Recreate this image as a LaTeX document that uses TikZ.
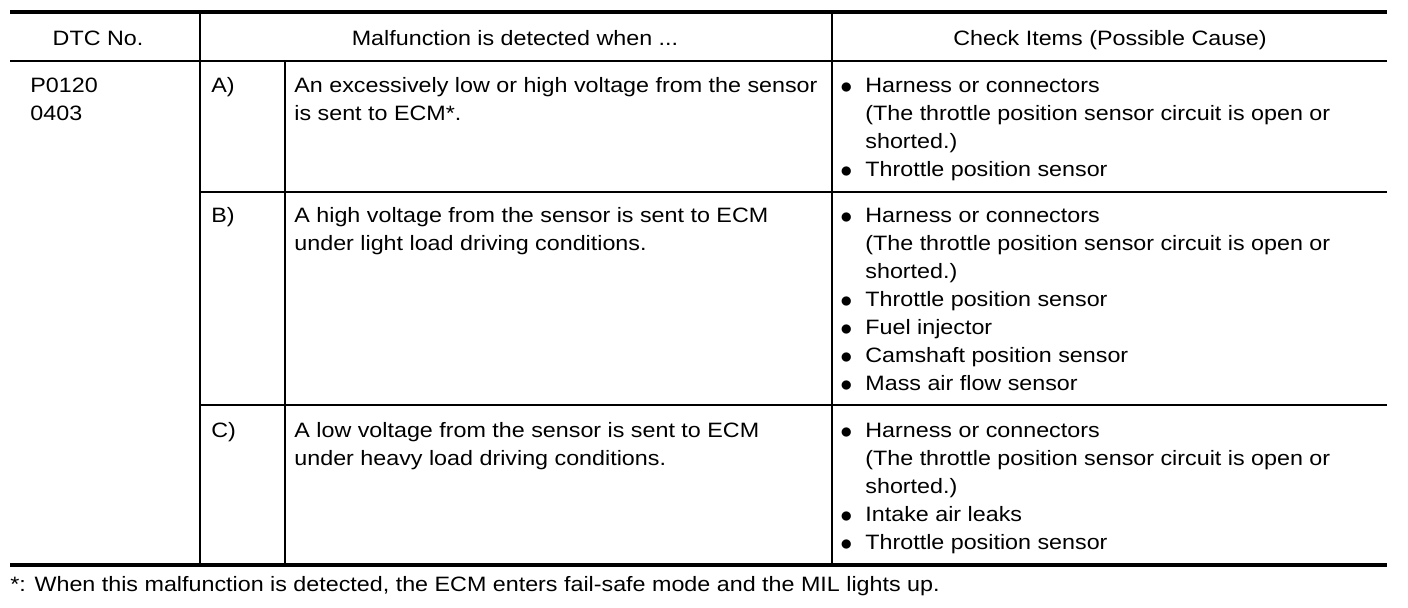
\documentclass[tikz,border=0pt]{standalone}
\usepackage{fontspec}
\setmainfont{Liberation Sans}[FakeStretch=1.12]
\usetikzlibrary{positioning}

\newcommand{\itm}{\makebox[12.5pt][l]{\raisebox{-0.8pt}{\fontsize{13pt}{14pt}\selectfont$\bullet$}}}
\newcommand{\cont}{\hspace*{12.5pt}}

\tikzset{
  cell/.style={anchor=north west, inner sep=0pt, align=left, font=\fontsize{10.4pt}{14pt}\selectfont},
  head/.style={anchor=base, inner sep=0pt, font=\fontsize{10.4pt}{14pt}\selectfont},
  rule/.style={line width=1.1pt},
  heavy/.style={line width=1.9pt}
}

\begin{document}
\begin{tikzpicture}[x=0.5pt, y=-0.5pt]
    \useasboundingbox (0,0) rectangle (1408,608);

    % Rules
    \draw[heavy] (10,12) -- (1387,12);
    \draw[rule, line width=1.3pt] (10,61) -- (1387,61);
    \draw[rule] (200,192) -- (1387,192);
    \draw[rule] (200,405) -- (1387,405);
    \draw[heavy] (10,565) -- (1387,565);
    \draw[rule] (200,12) -- (200,565);
    \draw[rule] (285,61) -- (285,565);
    \draw[rule] (832,12) -- (832,565);

    % Header
    \node[head] (hdtc) at (98,46) {DTC No.};
    \node[head] (hmal) at (515,46) {Malfunction is detected when ...};
    \node[head] (hchk) at (1110,46) {Check Items (Possible Cause)};

    % Row A
    \node[cell] (dtc) at (30,77.3) {P0120\\0403};
    \node[cell] (la) at (211,77.3) {A)};
    \node[cell] (da) at (294,77.3) {An excessively low or high voltage from the sensor\\is sent to ECM*.};
    \node[cell] (ca) at (840,77.3) {\itm Harness or connectors\\
        \cont(The throttle position sensor circuit is open or\\
        \cont shorted.)\\
        \itm Throttle position sensor};

    % Row B
    \node[cell] (lb) at (211,207.3) {B)};
    \node[cell] (db) at (294,207.3) {A high voltage from the sensor is sent to ECM\\under light load driving conditions.};
    \node[cell] (cb) at (840,207.3) {\itm Harness or connectors\\
        \cont(The throttle position sensor circuit is open or\\
        \cont shorted.)\\
        \itm Throttle position sensor\\
        \itm Fuel injector\\
        \itm Camshaft position sensor\\
        \itm Mass air flow sensor};

    % Row C
    \node[cell] (lc) at (211,422.3) {C)};
    \node[cell] (dc) at (294,422.3) {A low voltage from the sensor is sent to ECM\\under heavy load driving conditions.};
    \node[cell] (cc) at (840,422.3) {\itm Harness or connectors\\
        \cont(The throttle position sensor circuit is open or\\
        \cont shorted.)\\
        \itm Intake air leaks\\
        \itm Throttle position sensor};

    % Footnote
    \node[head, anchor=base west] (note) at (10,592) {*: When this malfunction is detected, the ECM enters fail-safe mode and the MIL lights up.};
\end{tikzpicture}
\end{document}
